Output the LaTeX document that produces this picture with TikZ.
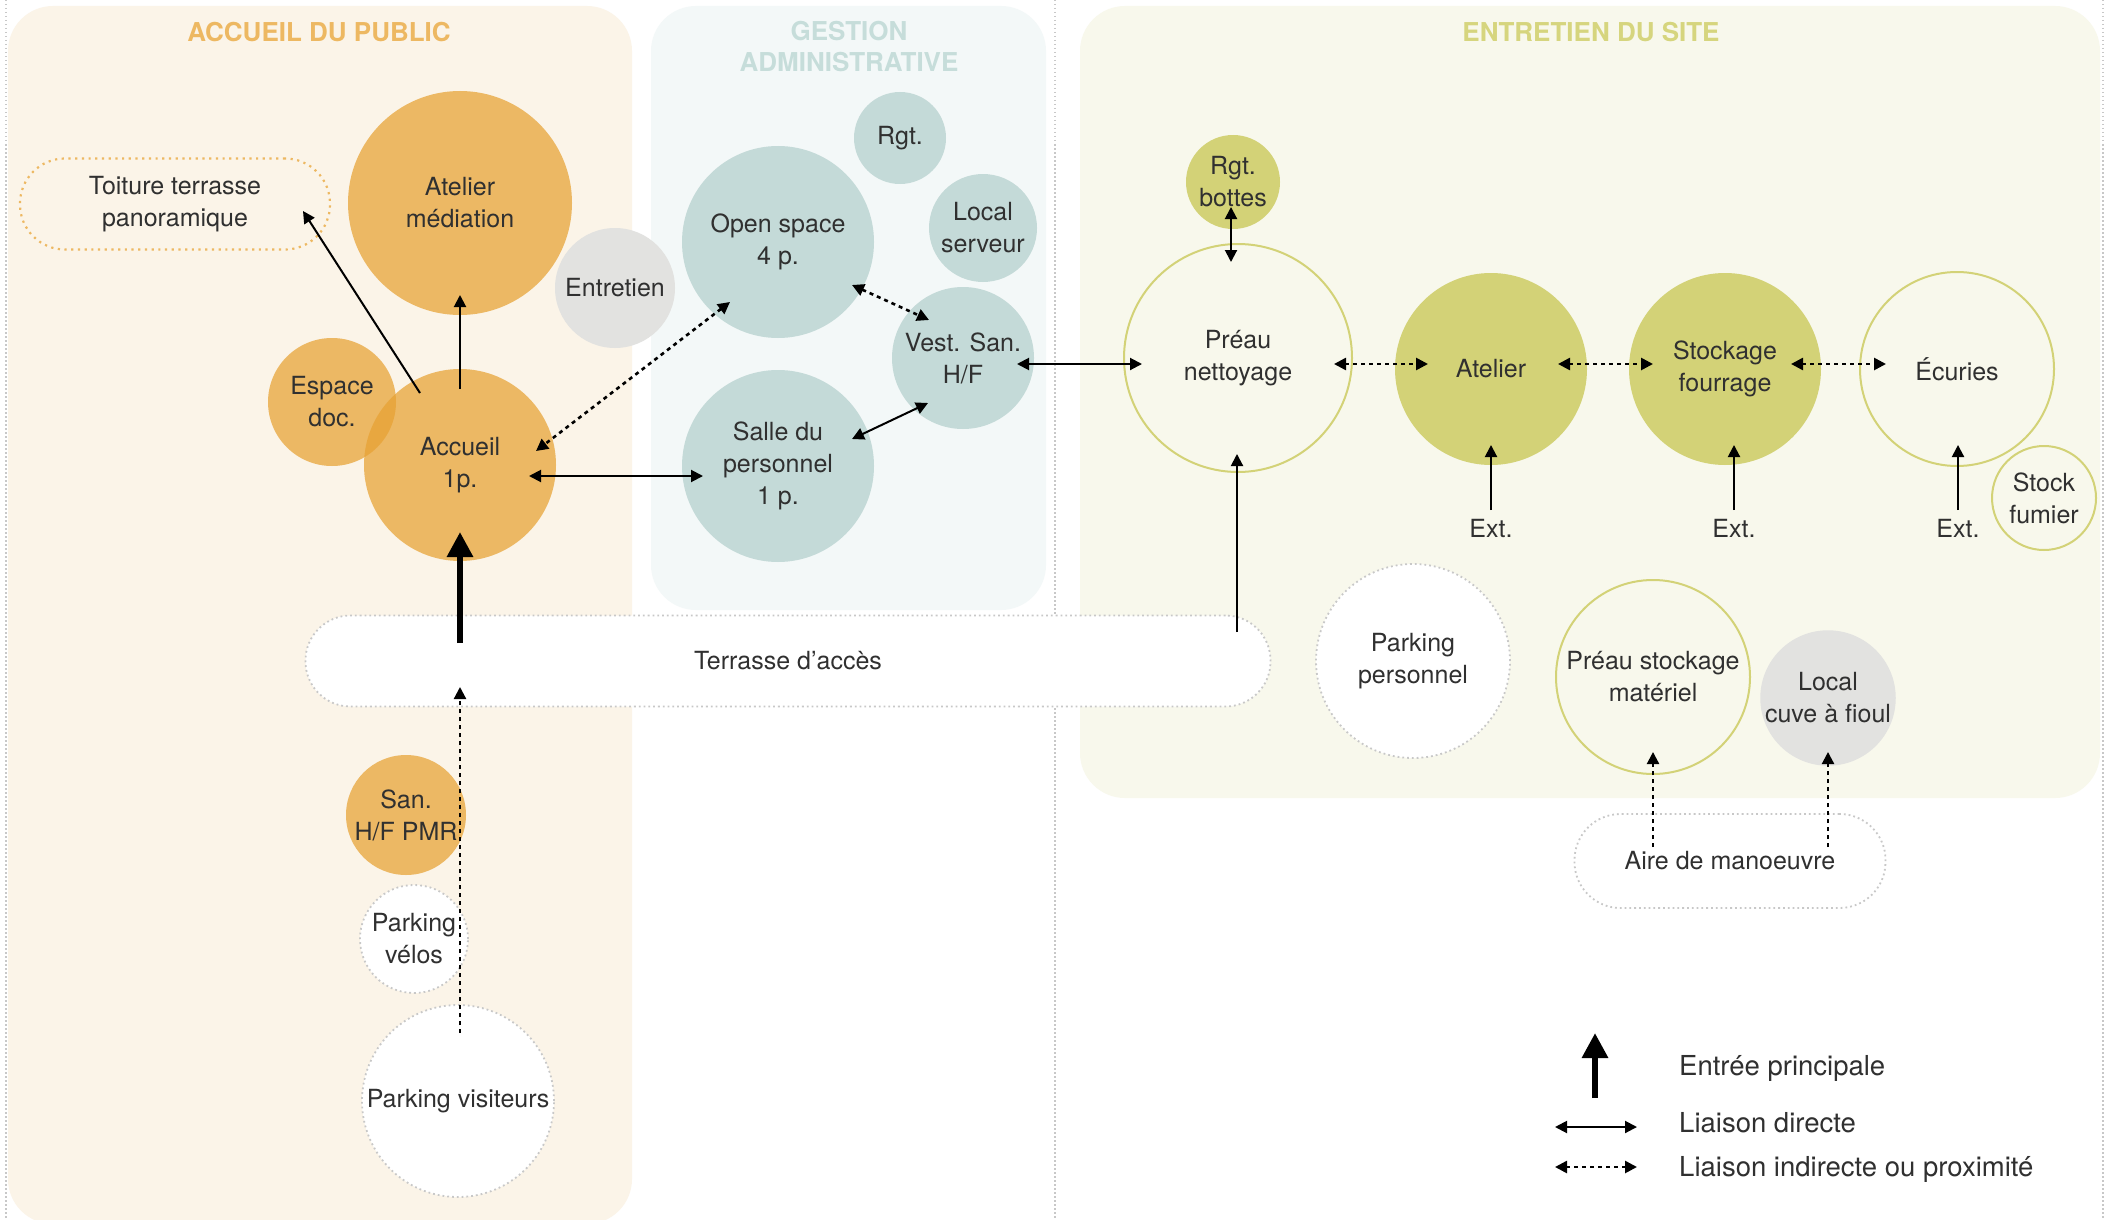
\documentclass[tikz,border=0pt]{standalone}
\usepackage{fontspec}
\setmainfont{TeX Gyre Heros}
\usetikzlibrary{arrows.meta,calc}
\definecolor{bgA}{HTML}{FBF4E8}
\definecolor{bgB}{HTML}{F3F8F8}
\definecolor{bgC}{HTML}{F8F8EC}
\definecolor{orA}{HTML}{E7A234}
\definecolor{tlB}{HTML}{C4DAD8}
\definecolor{olC}{HTML}{D3D277}
\definecolor{grY}{HTML}{E2E2E0}
\definecolor{ttA}{HTML}{EDB862}
\definecolor{ttB}{HTML}{C6DDDA}
\definecolor{ttC}{HTML}{D6D57E}
\definecolor{txt}{HTML}{303030}
\definecolor{dotg}{HTML}{C8C8C8}
\begin{document}
\begin{tikzpicture}[x=1pt,y=-1pt,
  every node/.style={font=\fontsize{25}{32}\selectfont, text=txt, align=center, inner sep=0pt},
  bub/.style={circle, minimum size=2*#1},
  orb/.style={bub=#1, fill=orA, fill opacity=0.73, text opacity=1},
  tlb/.style={bub=#1, fill=tlB},
  olv/.style={bub=#1, fill=olC},
  olo/.style={bub=#1, draw=olC, line width=2, fill=bgC},
  gry/.style={bub=#1, fill=grY},
  pkb/.style={bub=#1, draw=dotg, line width=1.8, dash pattern=on 1.8 off 3, fill=white},
  ttl/.style={font=\fontsize{26}{31}\selectfont\bfseries},
  lgt/.style={font=\fontsize{27.5}{32}\selectfont, anchor=west},
  >={Triangle[length=12pt,width=12pt]},
  dirl/.style={line width=2, <->},
  dir1/.style={line width=2, ->},
  indl/.style={line width=2.6, dash pattern=on 4 off 4, <->},
  ind1/.style={line width=2.2, dash pattern=on 4 off 4, ->},
  mainent/.style={line width=6, -{Triangle[length=25pt,width=25pt]}},
  frame/.style={dotg, line width=1.5, dash pattern=on 1.5 off 2.5}
]
\useasboundingbox (0,0) rectangle (2109,1220);
\fill[white] (0,0) rectangle (2109,1220);
% frame lines
\draw[frame] (6,0) -- (6,1220);
\draw[frame] (1055,0) -- (1055,1220);
\draw[frame] (2103,0) -- (2103,1220);
% panels
\fill[bgA, rounded corners=45] (8,6) rectangle (632,1224);
\fill[bgB, rounded corners=45] (651,6) rectangle (1046,610);
\fill[bgC, rounded corners=45] (1080,6) rectangle (2100,798);
% titles
\node[ttl, text=ttA] (tA) at (319,32) {ACCUEIL DU PUBLIC};
\node[ttl, text=ttB] (tB) at (849,47) {GESTION\\ADMINISTRATIVE};
\node[ttl, text=ttC] (tC) at (1591,32) {ENTRETIEN DU SITE};
% terrace and areas
\node[draw=ttA, line width=2.2, dash pattern=on 2.2 off 4.5, rounded corners=45, minimum width=310, minimum height=91] (toit) at (175,204) {Toiture terrasse\\panoramique};
\node[draw=dotg, fill=white, line width=1.8, dash pattern=on 1.8 off 3, rounded corners=45, minimum width=965, minimum height=91] (terr) at (788,661) {Terrasse d’accès};
\node[draw=dotg, fill=white, line width=1.8, dash pattern=on 1.8 off 3, rounded corners=46, minimum width=311, minimum height=94] (aire) at (1730,861) {Aire de manoeuvre};
% accueil
\node[orb=112] (atmed) at (460,203) {Atelier\\médiation};
\node[gry=60] (entr) at (615,288) {Entretien};
\node[orb=64] (espdoc) at (332,402) {Espace\\doc.};
\node[orb=96] (accueil) at (460,465) {Accueil\\1p.};
\node[orb=60] (san) at (406,815) {San.\\H/F PMR};
\node[pkb=54] (velos) at (414,939) {Parking\\vélos};
\node[pkb=96] (pvis) at (458,1101) {Parking visiteurs};
% gestion
\node[tlb=46] (rgt) at (900,138) {Rgt.};
\node[tlb=96] (open) at (778,242) {Open space\\4 p.};
\node[tlb=54] (local) at (983,228) {Local\\serveur};
\node[tlb=71] (vest) at (963,358) {Vest. San.\\H/F};
\node[tlb=96] (salle) at (778,466) {Salle du\\personnel\\1 p.};
% entretien du site
\node[olv=47] (rgtb) at (1233,182) {Rgt.\\bottes};
\node[olo=114] (preau) at (1238,358) {Préau\\nettoyage};
\node[olv=96] (atel) at (1491,369) {Atelier};
\node[olv=96] (stock) at (1725,369) {Stockage\\fourrage};
\node[olo=97] (ecur) at (1957,369) {Écuries};
\node[olo=52] (fum) at (2044,498) {Stock\\fumier};
\node (ext1) at (1491,528) {Ext.};
\node (ext2) at (1734,528) {Ext.};
\node (ext3) at (1958,528) {Ext.};
\node[pkb=97] (ppers) at (1413,661) {Parking\\personnel};
\node[olo=97] (pstock) at (1653,677) {Préau stockage\\matériel};
\node[gry=67] (cuve) at (1828,698) {Local\\cuve à fioul};
% connectors
\draw[dir1] ($(accueil)+(-40,-72)$) -- ($(toit)+(128,7)$);
\draw[dir1] ($(accueil)+(0,-76)$) -- ($(atmed)+(0,92)$);
\draw[mainent] ($(terr)+(-328,-18)$) -- ($(accueil)+(0,67)$);
\draw[indl] ($(open)+(-48,60)$) -- ($(accueil)+(76,-14)$);
\draw[dirl] ($(accueil)+(69,11)$) -- ($(salle)+(-75,10)$);
\draw[indl] ($(open)+(74,43)$) -- ($(vest)+(-34,-38)$);
\draw[dirl] ($(salle)+(74,-27)$) -- ($(vest)+(-35,45)$);
\draw[dirl] ($(vest)+(54,6)$) -- ($(preau)+(-96,6)$);
\draw[dirl] ($(rgtb)+(-2,25)$) -- ($(preau)+(-7,-96)$);
\draw[indl] ($(preau)+(96,6)$) -- ($(atel)+(-63,-5)$);
\draw[indl] ($(atel)+(67,-5)$) -- ($(stock)+(-72,-5)$);
\draw[indl] ($(stock)+(66,-5)$) -- ($(ecur)+(-71,-5)$);
\draw[dir1] ($(ext1)+(0,-18)$) -- ($(atel)+(0,76)$);
\draw[dir1] ($(ext2)+(0,-18)$) -- ($(stock)+(9,76)$);
\draw[dir1] ($(ext3)+(0,-18)$) -- ($(ecur)+(1,76)$);
\draw[dir1] ($(terr)+(449,-29)$) -- ($(preau)+(-1,96)$);
\draw[ind1] ($(pvis)+(2,-68)$) -- ($(terr)+(-328,26)$);
\draw[ind1] ($(aire)+(-77,-14)$) -- ($(pstock)+(0,75)$);
\draw[ind1] ($(aire)+(98,-14)$) -- ($(cuve)+(0,54)$);
% legend
\coordinate (le1) at (1595,1098);
\coordinate (le2) at (1595,1033);
\coordinate (ld1) at (1555,1127);
\coordinate (ld2) at (1637,1127);
\coordinate (li1) at (1555,1167);
\coordinate (li2) at (1637,1167);
\draw[mainent] (le1) -- (le2);
\draw[dirl] (ld1) -- (ld2);
\draw[indl] (li1) -- (li2);
\node[lgt] (lgE) at (1679,1068) {Entrée principale};
\node[lgt] (lgD) at (1679,1123) {Liaison directe};
\node[lgt] (lgI) at (1679,1169) {Liaison indirecte ou proximité};
\end{tikzpicture}
\end{document}
